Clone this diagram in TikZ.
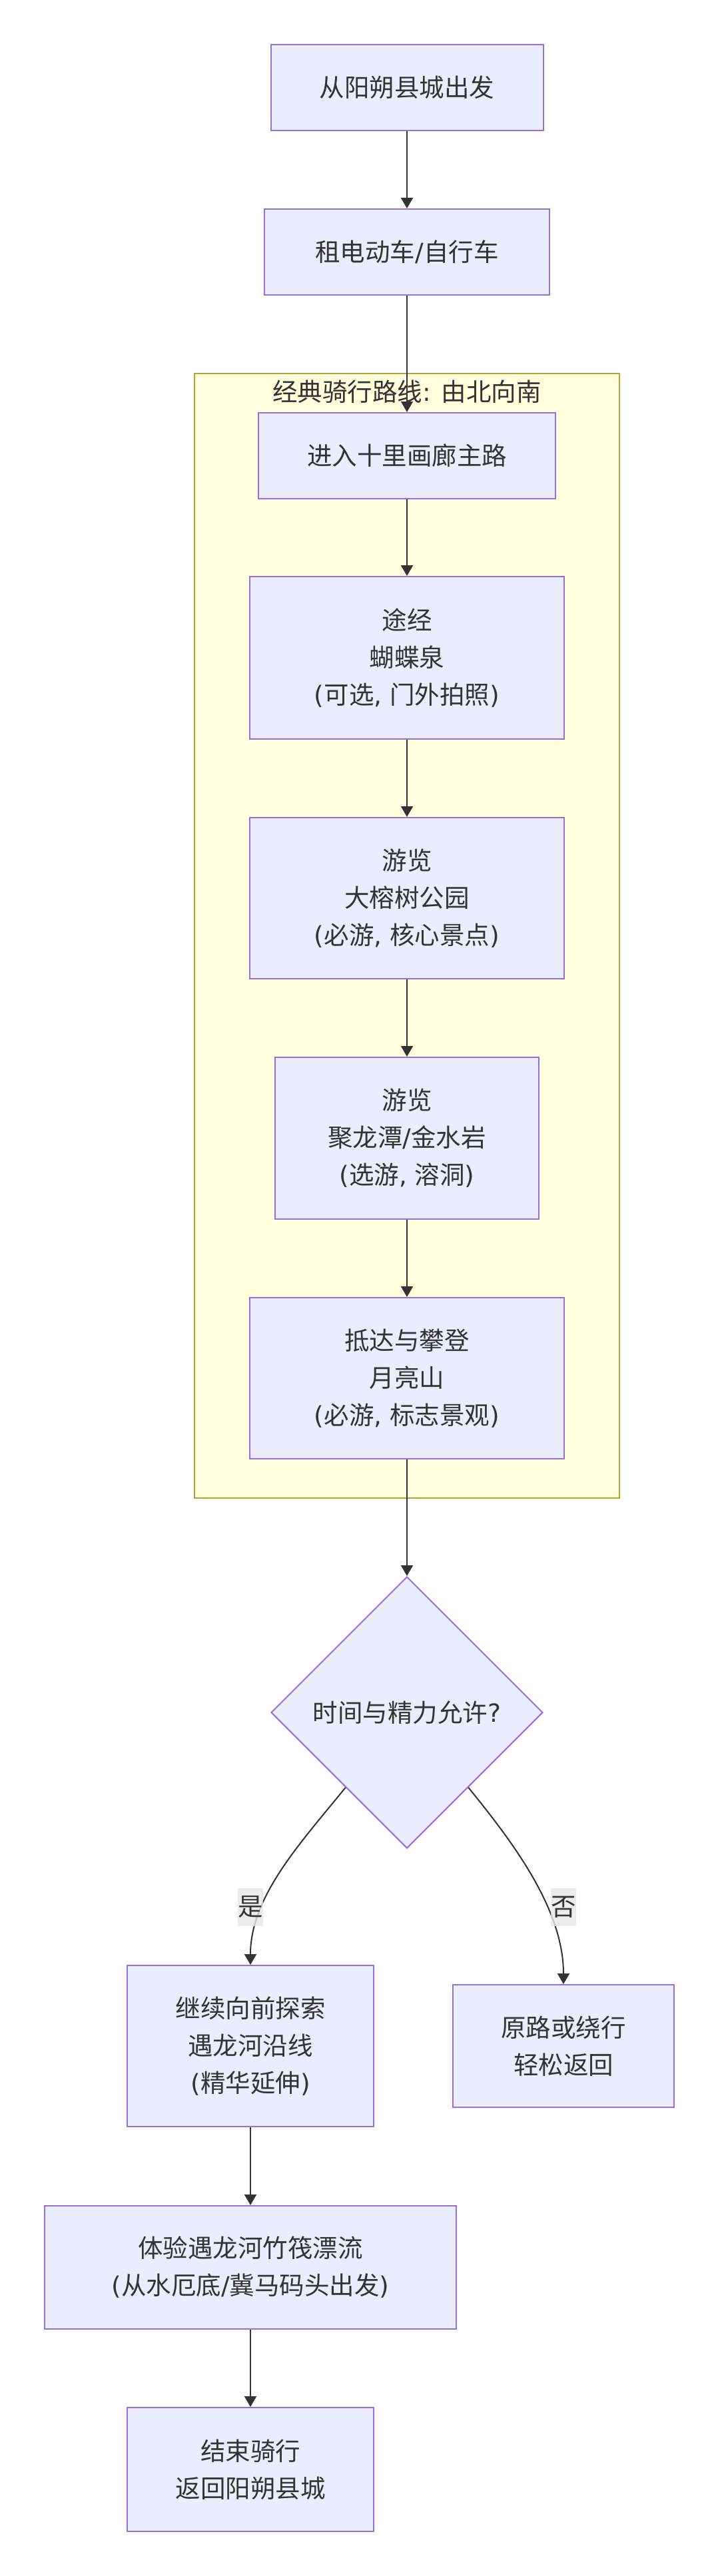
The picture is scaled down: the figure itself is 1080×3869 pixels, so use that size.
\documentclass[tikz,border=0pt]{standalone}
\usepackage{fontspec}
\usetikzlibrary{shapes.geometric,arrows.meta,calc}
\newfontfamily\cjk{Noto Sans CJK SC}
\newfontfamily\latfont{DejaVu Sans}
\newcommand{\latn}[1]{{\latfont #1}}
\definecolor{boxfill}{HTML}{ECECFF}
\definecolor{boxstroke}{HTML}{9370DB}
\definecolor{clfill}{HTML}{FFFFDE}
\definecolor{clstroke}{HTML}{AAAA33}
\definecolor{linec}{HTML}{333333}
\definecolor{textc}{HTML}{333333}
\definecolor{lblbg}{HTML}{E8E8E8}
\tikzset{
  box/.style={draw=boxstroke, fill=boxfill, line width=2pt, text=textc, align=center,
    inner sep=0pt, font=\cjk\fontsize{37.5}{56}\selectfont},
  decision/.style={box, shape=diamond, aspect=1},
  cluster/.style={draw=clstroke, fill=clfill, line width=2pt},
  ctitle/.style={text=textc, inner sep=0pt, font=\cjk\fontsize{37.5}{56}\selectfont},
  edge/.style={draw=linec, line width=2pt, -{Triangle[length=16pt,width=18pt]}},
  elabel/.style={fill=lblbg, fill opacity=0.8, text opacity=1, text=textc, inner sep=0pt,
    minimum width=38pt, minimum height=57pt, font=\cjk\fontsize{37.5}{56}\selectfont}
}
\begin{document}
\begin{tikzpicture}[x=1pt,y=-1pt]
\path[use as bounding box, fill=white] (0,0) rectangle (1080,3869);
% cluster
\draw[cluster] (292,561) rectangle (930,2250);
\node[ctitle] (ct) at (611,588) {经典骑行路线\latn{: }由北向南};
% nodes
\node[box, minimum width=409pt, minimum height=129pt] (n1) at (611,131.5) {从阳朔县城出发};
\node[box, minimum width=428pt, minimum height=129pt] (n2) at (611,378.5) {租电动车\latn{/}自行车};
\node[box, minimum width=446pt, minimum height=129pt] (n3) at (611,684.5) {进入十里画廊主路};
\node[box, minimum width=472pt, minimum height=244pt] (n4) at (611,988) {途经\\蝴蝶泉\\\latn{(}可选\latn{, }门外拍照\latn{)}};
\node[box, minimum width=472pt, minimum height=242pt] (n5) at (611,1349) {游览\\大榕树公园\\\latn{(}必游\latn{, }核心景点\latn{)}};
\node[box, minimum width=396pt, minimum height=243pt] (n6) at (611,1709.5) {游览\\聚龙潭\latn{/}金水岩\\\latn{(}选游\latn{, }溶洞\latn{)}};
\node[box, minimum width=472pt, minimum height=242pt] (n7) at (611,2070) {抵达与攀登\\月亮山\\\latn{(}必游\latn{, }标志景观\latn{)}};
\node[decision, minimum width=408pt, minimum height=408pt] (d) at (611,2572) {时间与精力允许\latn{?}};
\node[box, minimum width=370pt, minimum height=242pt] (y) at (376,3073) {继续向前探索\\遇龙河沿线\\\latn{(}精华延伸\latn{)}};
\node[box, minimum width=332pt, minimum height=184pt] (no) at (846,3073) {原路或绕行\\轻松返回};
\node[box, minimum width=618pt, minimum height=185pt] (r) at (376,3405.5) {体验遇龙河竹筏漂流\\\latn{(}从水厄底\latn{/}冀马码头出发\latn{)}};
\node[box, minimum width=370pt, minimum height=186pt] (e) at (376,3709) {结束骑行\\返回阳朔县城};
% edges
\draw[edge] (n1.south) -- (n2.north);
\draw[edge] (n2.south) -- (n3.north);
\draw[edge] (n3.south) -- (n4.north);
\draw[edge] (n4.south) -- (n5.north);
\draw[edge] (n5.south) -- (n6.north);
\draw[edge] (n6.south) -- (n7.north);
\draw[edge] (n7.south) -- (d.north);
\coordinate (dy) at ($(d.west)!0.55!(d.south)$);
\coordinate (dn) at ($(d.east)!0.55!(d.south)$);
\draw[edge] (dy) .. controls ($(dy)+(-70,86)$) and ($(y.north)+(0,-102)$) .. (y.north);
\draw[edge] (dn) .. controls ($(dn)+(70,86)$) and ($(no.north)+(0,-111)$) .. (no.north);
\node[elabel] (ly) at (376,2864) {是};
\node[elabel] (ln) at (846,2864) {否};
\draw[edge] (y.south) -- (r.north);
\draw[edge] (r.south) -- (e.north);
\end{tikzpicture}
\end{document}
